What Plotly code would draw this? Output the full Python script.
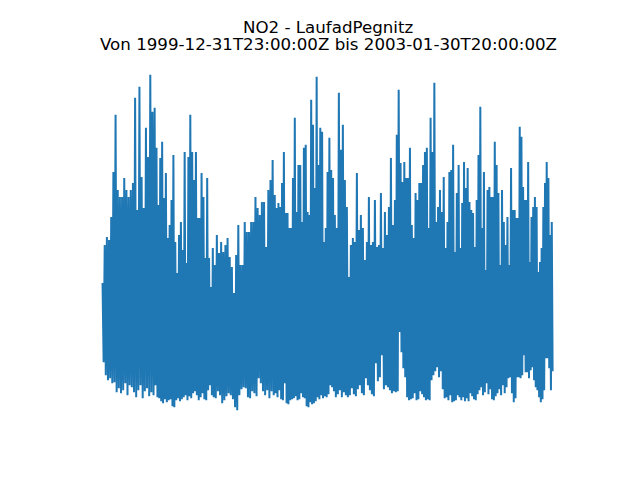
import numpy as np
import pandas as pd
import plotly.graph_objects as go

station = "LaufadPegnitz"
pollutant = "NO2"
t_start = "1999-12-31T23:00:00Z"
t_end = "2003-01-30T20:00:00Z"

# boundaries of the reading periods
period_edges = ["1999-12-31T23:00", "2000-05-10T00:00", "2000-10-07T00:00", "2001-03-06T00:00",
                "2001-08-03T00:00", "2001-12-31T00:00", "2002-05-30T00:00", "2002-10-26T00:00",
                "2003-01-30T20:00"]

# successive hourly maxima / minima (µg/m³) per period
peaks_p1 = [66, 85, 89, 87.5, 99, 121.5, 150, 112.5, 109, 109, 118.5, 112.5, 109, 112.5, 116,
            158.5, 102.5, 164, 119, 103.5, 143.5, 129, 170, 151.5]
troughs_p1 = [26.5, 20, 17.5, 18.5, 16, 16.5, 11.5, 13.5, 11, 12.5, 16, 10, 15, 14, 11.5, 9,
              12.5, 15, 8.5, 12, 13.5, 9.5, 11.5, 10]
peaks_p2 = [153.5, 133.5, 105, 128.5, 136.5, 108.5, 121, 88.5, 95, 107.5, 130, 86.5, 71, 90,
            96.5, 82.5, 131.5, 76, 129, 150, 131.5, 117.5, 131.5, 98.5, 98.5, 121, 109, 78.5,
            118.5, 78.5, 64, 83.5]
troughs_p2 = [15, 9, 8.5, 7, 6, 8, 6.5, 7.5, 8, 4.5, 4, 7.5, 8.5, 7, 8, 9, 10, 7.5, 9.5, 8.5,
              11, 12, 10, 7.5, 9, 11, 8, 7.5, 12.5, 15, 10, 9]
peaks_p3 = [75, 90, 81, 86.5, 81.5, 85, 88.5, 79, 74, 61, 80, 95, 75, 75, 96.5, 91.5, 91.5,
            96.5, 96.5, 109, 103.5, 100, 106.5, 106.5, 84, 112.5, 117.5, 127.5]
troughs_p3 = [8.5, 12, 10, 6, 7.5, 9.5, 11, 10, 8, 4, 2.5, 10, 13, 14, 13.5, 9, 8.5, 12, 11,
              9.5, 18.5, 16, 12, 10, 12.5, 8.5, 12, 10]
peaks_p4 = [110, 103.5, 106, 104, 116, 131.5, 101, 101, 93.5, 93.5, 118.5, 148.5, 101.5, 125,
            125, 96.5, 133.5, 135, 101.5, 100, 157.5, 145, 113.5, 169, 125, 143.5, 141.5, 86.5,
            93.5, 121.5, 138.5, 122.5, 118.5]
troughs_p4 = [11, 9, 12.5, 8, 7.5, 16, 6, 5.5, 7.5, 8, 8.5, 9.5, 7.5, 8, 11, 9, 8.5, 4.5, 4,
              6.5, 5.5, 6, 7, 9, 8, 10, 8.5, 9.5, 9, 10.5, 15, 14, 12]
peaks_p5 = [100, 93.5, 161, 132.5, 145, 117.5, 104, 69, 85, 88.5, 86.5, 121, 92.5, 100, 93.5,
            77.5, 86.5, 109, 85, 86.5, 107.5, 84, 85, 111, 83.5, 101.5, 90, 104, 128.5, 95]
troughs_p5 = [9, 10.5, 12.5, 9, 11.5, 10, 9, 10, 13.5, 10.5, 9.5, 13, 15, 11, 10, 18.5, 15,
              12.5, 10.5, 9.5, 26, 17, 19, 30, 13, 15, 14, 12.5, 11, 12]
peaks_p6 = [107.5, 140, 162.5, 126, 116.5, 126.5, 118.5, 118.5, 133.5, 95, 88.5, 111, 107.5,
            116, 116, 125, 131.5, 133.5, 93.5, 148.5, 131.5, 166, 96.5, 104, 112.5, 101.5, 119,
            83.5, 96.5, 121.5, 122.5, 135]
troughs_p6 = [11.5, 12, 41.5, 31.5, 23.5, 19, 9, 7.5, 8, 8.5, 11, 7.5, 8, 12, 10.5, 9, 7.5, 8,
              7.5, 17.5, 20, 22, 24, 19, 22, 13, 8.5, 9, 7.5, 10, 6.5, 7]
peaks_p7 = [81.5, 111, 125, 83.5, 106, 126.5, 113.5, 123.5, 106.5, 102.5, 101, 84, 107.5, 130,
            154, 93.5, 121.5, 72.5, 112.5, 114, 109, 109, 136.5, 125, 111, 75, 112.5, 96.5, 85,
            99, 75, 123.5, 102.5]
troughs_p7 = [7.5, 10, 9, 7.5, 9, 7, 8.5, 7, 11, 9.5, 8, 7.5, 10.5, 12.5, 14, 10, 11.5, 16,
              10.5, 13, 8, 7.5, 9.5, 11, 13, 10, 15, 11, 14, 18.5, 19, 11, 6.5]
peaks_p8 = [102.5, 98.5, 98.5, 144, 139, 114, 107.5, 107.5, 126.5, 76.5, 99, 104, 109, 104,
            71.5, 76.5, 83.5, 104, 116, 126.5, 118.5, 90, 96.5]
troughs_p8 = [8.5, 19, 19, 18.5, 20, 30, 21.5, 21.5, 18.5, 22.5, 24, 17.5, 14, 12.5, 9, 6.5, 8,
              12.5, 28.5, 28.5, 23.5, 12.5, 22]

peaks = [peaks_p1, peaks_p2, peaks_p3, peaks_p4, peaks_p5, peaks_p6, peaks_p7, peaks_p8]
troughs = [troughs_p1, troughs_p2, troughs_p3, troughs_p4, troughs_p5, troughs_p6,
           troughs_p7, troughs_p8]

times, values = [], []
edges = pd.to_datetime(period_edges, format="ISO8601")
for k in range(len(peaks)):
    n = len(peaks[k])
    step = (edges[k + 1] - edges[k]) / n
    for i in range(n):
        times.append(edges[k] + step * i)
        values.append(peaks[k][i])
        times.append(edges[k] + step * (i + 0.5))
        values.append(troughs[k][i])

t0 = pd.to_datetime(t_start).tz_localize(None)
t1 = pd.to_datetime(t_end).tz_localize(None)
xpad = (t1 - t0) * 0.05
vmin, vmax = min(values), max(values)
ypad = (vmax - vmin) * 0.05

fig = go.Figure()
fig.add_trace(go.Scatter(x=times, y=values, mode="lines",
                         line=dict(color="#1f77b4", width=2), hoverinfo="skip"))

font = dict(family="DejaVu Sans", size=16.67, color="black")
fig.update_layout(
    width=640, height=480,
    margin=dict(l=72, r=72, t=49.6, b=60.8),
    paper_bgcolor="white", plot_bgcolor="white",
    showlegend=False,
    xaxis=dict(visible=False, range=[t0 - xpad, t1 + xpad]),
    yaxis=dict(visible=False, range=[vmin - ypad, vmax + ypad]),
    annotations=[
        dict(text=f"{pollutant} - {station}", x=0.5, y=1, xref="paper", yref="paper",
             xanchor="center", yanchor="bottom", yshift=18.5, showarrow=False, font=font),
        dict(text=f"Von {t_start} bis {t_end}", x=0.5, y=1, xref="paper", yref="paper",
             xanchor="center", yanchor="bottom", yshift=1.5, showarrow=False, font=font),
    ],
)
fig.write_html("out.html")
